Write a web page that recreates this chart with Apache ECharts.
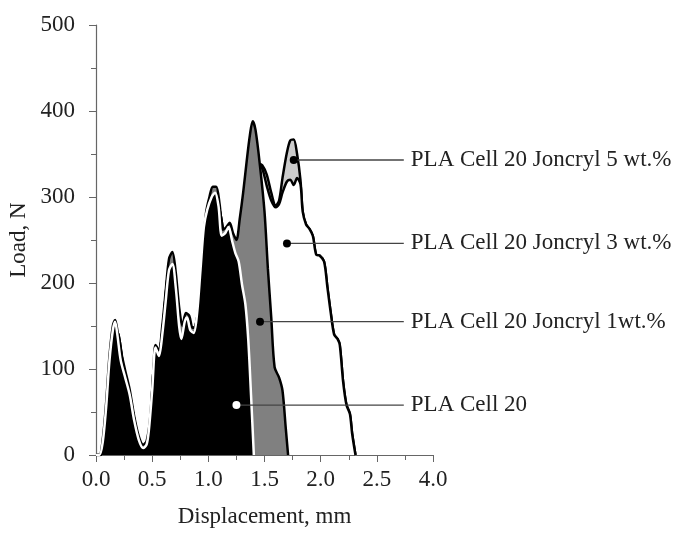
<!DOCTYPE html>
<html>
<head>
<meta charset="utf-8">
<script src="https://cdn.jsdelivr.net/npm/echarts@6/dist/echarts.min.js"></script>
<style>
  html, body { margin: 0; padding: 0; background: #fff; }
  #chart { width: 681px; height: 533px; }
</style>
</head>
<body>
<div id="chart"></div>
<script>
// load-displacement curves
const dispPla = [0.00,0.03,0.06,0.09,0.12,0.15,0.17,0.19,0.22,0.26,0.30,0.34,0.38,0.42,0.45,0.47,0.50,0.53,0.56,0.59,0.62,0.65,0.68,0.71,0.74,0.76,0.79,0.81,0.84,0.87,0.90,0.93,0.96,0.99,1.03,1.06,1.09,1.12,1.15,1.18,1.21,1.24,1.27,1.30,1.33,1.355,1.38,1.405];
const loadPla = [0,0,15,55,110,145,155,140,110,90,70,40,18,8,12,28,75,125,115,140,178,215,222,195,150,135,155,160,145,142,165,215,265,285,300,305,290,255,258,265,250,235,225,198,175,135,70,0];

const dispJ1 = [0.00,0.03,0.06,0.09,0.12,0.15,0.17,0.19,0.22,0.26,0.30,0.34,0.38,0.42,0.45,0.48,0.51,0.53,0.56,0.59,0.62,0.65,0.68,0.71,0.74,0.77,0.80,0.83,0.86,0.89,0.92,0.95,0.98,1.01,1.04,1.07,1.10,1.13,1.16,1.19,1.22,1.25,1.28,1.31,1.34,1.37,1.395,1.42,1.46,1.50,1.53,1.56,1.59,1.63,1.66,1.69,1.71];
const loadJ1 = [0,0,18,60,115,150,157,145,122,98,76,45,22,12,16,40,95,128,122,150,190,228,236,212,172,150,165,162,148,150,180,235,282,300,312,312,292,262,265,270,258,250,275,305,340,372,388,378,336,283,217,160,102,90,75,30,0];

const dispJ3 = [0.00,0.04,0.08,0.12,0.16,0.20,0.25,0.30,0.35,0.40,0.44,0.48,0.52,0.56,0.60,0.64,0.68,0.72,0.76,0.80,0.85,0.90,0.95,1.00,1.05,1.10,1.15,1.20,1.25,1.30,1.35,1.40,1.45,1.48,1.52,1.56,1.60,1.63,1.66,1.70,1.73,1.76,1.79,1.82,1.84,1.87,1.90,1.93,1.96,1.99,2.03,2.06,2.09,2.12,2.15,2.17,2.20,2.23,2.26,2.28,2.31];
const loadJ3 = [0,0,30,100,145,140,95,70,35,10,10,30,110,115,155,210,225,185,140,150,138,160,220,290,300,285,250,240,220,260,300,330,337,333,313,296,288,292,305,318,320,314,322,315,283,268,263,255,233,232,225,195,165,140,135,128,85,58,48,25,0];

const dispJ5 = [0.00,0.04,0.08,0.12,0.16,0.20,0.25,0.30,0.35,0.40,0.44,0.48,0.52,0.56,0.60,0.64,0.68,0.72,0.76,0.80,0.85,0.90,0.95,1.00,1.05,1.10,1.15,1.20,1.25,1.30,1.35,1.40,1.45,1.48,1.52,1.56,1.60,1.63,1.66,1.70,1.73,1.76,1.79,1.82,1.84,1.87,1.90,1.93,1.96,1.99,2.03,2.06,2.09,2.12,2.15,2.17,2.20,2.23,2.26,2.28,2.31];
const loadJ5 = [0,0,30,100,145,140,95,70,35,10,10,30,110,115,155,210,225,185,140,150,138,160,220,290,300,285,250,240,220,260,300,330,338,337,326,305,290,296,322,352,366,367,350,320,283,268,263,255,233,232,225,195,165,140,135,128,85,58,48,25,0];

// callouts: dot position, label
const calloutNames = ['PLA Cell 20 Joncryl 5 wt.%', 'PLA Cell 20 Joncryl 3 wt.%', 'PLA Cell 20 Joncryl 1wt.%', 'PLA Cell 20'];
const calloutX = [1.76, 1.70, 1.46, 1.25];
const calloutY = [343, 246, 155, 58];
const calloutEndX = 2.74;

const xTickLabels = ['0.0', '0.5', '1.0', '1.5', '2.0', '2.5', '4.0'];

const FONT = 'Liberation Serif';
const FS = 23;

function pairs(xs, ys) {
  return xs.map((x, i) => [x, ys[i]]);
}

const chart = echarts.init(document.getElementById('chart'));

function curve(name, xs, ys, fill, lineColor, z) {
  return {
    name: name,
    type: 'line',
    data: pairs(xs, ys),
    smooth: 0.3,
    showSymbol: false,
    z: z,
    lineStyle: { color: lineColor, width: 2.5 },
    areaStyle: { color: fill, opacity: 1 }
  };
}

const series = [
  curve('J5', dispJ5, loadJ5, '#cccccc', '#000', 2),
  curve('J3', dispJ3, loadJ3, '#ffffff', '#000', 3),
  curve('J1', dispJ1, loadJ1, '#808080', '#000', 4),
  curve('PLA', dispPla, loadPla, '#000000', '#ffffff', 5)
];

// leader lines with the labels at their end
calloutNames.forEach((name, i) => {
  series.push({
    name: name,
    type: 'line',
    data: [[calloutX[i], calloutY[i]], [calloutEndX, calloutY[i]]],
    showSymbol: false,
    z: 6,
    lineStyle: { color: '#444', width: 1.3 },
    endLabel: {
      show: true,
      formatter: name,
      fontFamily: FONT,
      fontSize: FS,
      color: '#222',
      distance: 7
    }
  });
});

series.push({
  type: 'scatter',
  z: 7,
  symbolSize: 8,
  data: calloutX.map((x, i) => ({
    value: [x, calloutY[i]],
    itemStyle: { color: i === 3 ? '#fff' : '#000', opacity: 1 }
  }))
});

chart.setOption({
  animation: false,
  backgroundColor: '#fff',
  grid: { left: 96, right: 248, top: 25, bottom: 77 },
  xAxis: {
    type: 'value',
    min: 0,
    max: 3,
    interval: 0.5,
    name: 'Displacement, mm',
    nameLocation: 'middle',
    nameGap: 50,
    nameTextStyle: { fontFamily: FONT, fontSize: FS, color: '#222' },
    axisLine: { lineStyle: { color: '#666', width: 1.2 } },
    axisTick: { length: 7, lineStyle: { color: '#666' } },
    minorTick: { show: true, splitNumber: 2, length: 5, lineStyle: { color: '#666' } },
    splitLine: { show: false },
    axisLabel: {
      margin: 13,
      fontFamily: FONT,
      fontSize: FS,
      color: '#222',
      formatter: v => xTickLabels[Math.round(v / 0.5)]
    }
  },
  yAxis: {
    type: 'value',
    min: 0,
    max: 500,
    interval: 100,
    name: 'Load, N',
    nameLocation: 'middle',
    nameGap: 66,
    nameTextStyle: { fontFamily: FONT, fontSize: FS, color: '#222' },
    axisLine: { show: true, lineStyle: { color: '#666', width: 1.2 } },
    axisTick: { show: true, length: 7, lineStyle: { color: '#666' } },
    minorTick: { show: true, splitNumber: 2, length: 5, lineStyle: { color: '#666' } },
    splitLine: { show: false },
    axisLabel: { margin: 21, fontFamily: FONT, fontSize: FS, color: '#222' }
  },
  series: series
});
</script>
</body>
</html>
